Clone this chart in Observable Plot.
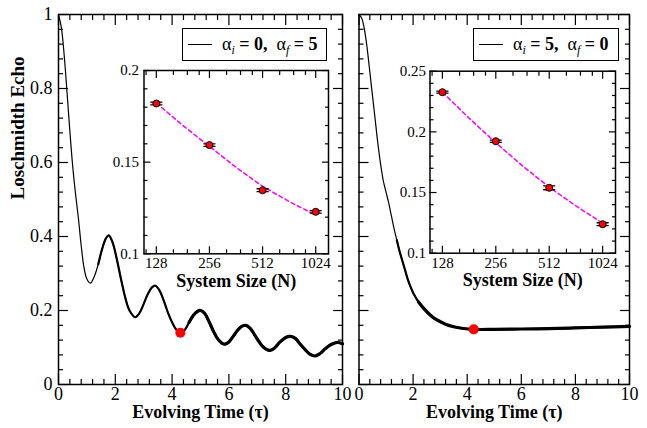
<!DOCTYPE html>
<html><head><meta charset="utf-8">
<script src="https://cdn.jsdelivr.net/npm/d3@7"></script>
<script src="https://cdn.jsdelivr.net/npm/@observablehq/plot@0.6"></script>
<style>
body{margin:0;background:#fff;}
#wrap{position:relative;width:647px;height:428px;overflow:hidden;font-family:"Liberation Serif","Times New Roman",serif;}
.pos{position:absolute;}
.legend{position:absolute;border:1.5px solid #000;background:#fff;box-sizing:border-box;font-weight:bold;font-size:18px;color:#000;}
.legend .ls{position:absolute;height:0;border-top:1px solid #000;}
.legend .lt{position:absolute;white-space:pre;line-height:22px;}
.legend .g{font-weight:normal;}
.legend sub{font-size:12px;font-style:italic;font-weight:normal;vertical-align:-4px;line-height:0;}
</style></head><body><div id="wrap"></div>
<script>
// ---- Main panels: Loschmidt echo vs evolving time ----
const timeLeft = [0,0.1,0.2,0.3,0.4,0.5,0.6,0.7,0.8,0.9,1.0,1.12,1.25,1.4,1.55,1.67,1.77,1.9,2.05,2.2,2.35,2.5,2.7,2.85,3.0,3.15,3.3,3.41,3.55,3.7,3.85,4.0,4.15,4.29,4.45,4.6,4.75,4.9,5.0,5.15,5.3,5.45,5.6,5.75,5.87,6.0,6.15,6.3,6.45,6.6,6.75,6.9,7.05,7.2,7.43,7.6,7.8,8.0,8.17,8.35,8.5,8.7,8.85,9.03,9.2,9.4,9.6,9.82,10];
const echoLeft = [1,0.965,0.89,0.79,0.685,0.59,0.515,0.45,0.375,0.315,0.285,0.274,0.29,0.325,0.37,0.395,0.403,0.385,0.34,0.285,0.235,0.2,0.182,0.193,0.218,0.245,0.263,0.267,0.255,0.228,0.195,0.168,0.148,0.14,0.148,0.168,0.187,0.198,0.2,0.192,0.17,0.145,0.124,0.112,0.109,0.115,0.13,0.146,0.157,0.16,0.152,0.135,0.117,0.102,0.092,0.098,0.115,0.127,0.13,0.124,0.11,0.093,0.082,0.077,0.083,0.097,0.108,0.114,0.11];
const timeRight = [0,0.1,0.2,0.3,0.4,0.5,0.6,0.7,0.8,0.9,1.0,1.1,1.2,1.3,1.4,1.5,1.6,1.7,1.8,1.9,2.0,2.2,2.4,2.6,2.8,3.0,3.2,3.5,3.8,4.24,5,6,7,8,9,10];
const echoRight = [1,0.99,0.96,0.91,0.845,0.78,0.715,0.65,0.595,0.55,0.52,0.49,0.455,0.42,0.39,0.36,0.335,0.31,0.285,0.265,0.248,0.223,0.205,0.19,0.178,0.17,0.163,0.156,0.152,0.149,0.149,0.15,0.151,0.153,0.155,0.157];
const markedLeft = {t: 4.29, e: 0.14};
const markedRight = {t: 4.24, e: 0.149};
const legendLeft = {ai: 0, af: 5};
const legendRight = {ai: 5, af: 0};

const xMajor = [0,2,4,6,8,10];
const xMinor = d3.range(0.4, 10, 0.4).filter(v => Math.abs(v/2 - Math.round(v/2)) > 1e-6);
const yMajor = [0,0.2,0.4,0.6,0.8,1];
const yMinor = d3.range(0.04, 1, 0.04).filter(v => Math.abs(v/0.2 - Math.round(v/0.2)) > 1e-6);

// ---- Insets: echo at marked time vs system size ----
const sizes = [128,256,512,1024];
const sizeLabels = ["128","256","512","1024"];
const sizeMinor = [112,160,192,224,320,384,448,640,768,896];
const insetLeftValues = [0.182,0.1593,0.1347,0.1229];
const insetLeftErrors = [0.0007,0.0007,0.0008,0.0007];
const insetLeftFitN = [128,181,256,362,512,724,1024];
const insetLeftFit = [0.1823,0.170,0.1586,0.1472,0.1368,0.1285,0.1211];
const insetRightValues = [0.2327,0.1923,0.1539,0.1239];
const insetRightErrors = [0.0008,0.0009,0.0016,0.0012];
const insetRightFitN = [128,181,256,362,512,724,1024];
const insetRightFit = [0.2327,0.2113,0.191,0.172,0.1544,0.139,0.1247];
const insetLeftYMajor = [0.1,0.15,0.2];
const insetRightYMajor = [0.1,0.15,0.2,0.25];
const insetXDomain = [109, 1210];

const FONT = "Liberation Serif, Times New Roman, serif";
const wrap = document.getElementById("wrap");

function place(el, left, top) {
  el.classList.add("pos");
  el.style.left = left + "px";
  el.style.top = top + "px";
  wrap.appendChild(el);
}

// segments as two-point polylines grouped by id
function segLine(segs, opts) {
  const pts = segs.flatMap((s, i) => [{x: s[0], y: s[1], id: i}, {x: s[2], y: s[3], id: i}]);
  return Plot.line(pts, {x: "x", y: "y", z: "id", ...opts});
}

// inward ticks on all four sides, drawn with the library's axis ticks shifted inside the frame
function axisTicks(xMaj, xMin, yMaj, yMin, majLen, minLen) {
  const o = {stroke: "#000", strokeWidth: 1.2, fill: "none", tickFormat: () => "", label: null, tickPadding: 0};
  const xs = (arr, len) => [
    Plot.axisX(arr, {...o, anchor: "bottom", tickSize: len, dy: -len}),
    Plot.axisX(arr, {...o, anchor: "top", tickSize: len, dy: len})
  ];
  const ys = (arr, len) => [
    Plot.axisY(arr, {...o, anchor: "left", tickSize: len, dx: len}),
    Plot.axisY(arr, {...o, anchor: "right", tickSize: len, dx: -len})
  ];
  return [...xs(xMaj, majLen), ...xs(xMin, minLen), ...ys(yMaj, majLen), ...ys(yMin, minLen)];
}

function mainPanel({t, e, mark, width, mL, mR, showY, thick1, thick2}) {
  const H = 428, mT = 14, mB = 44;
  const data = t.map((x, i) => ({t: x, e: e[i]}));
  const lineOpts = {x: "t", y: "e", curve: "catmull-rom", stroke: "#000"};
  const marks = [
    Plot.line(data, {...lineOpts, strokeWidth: 1.2}),
    Plot.line(data.filter(d => d.t >= thick1), {...lineOpts, strokeWidth: 2.2}),
    Plot.line(data.filter(d => d.t >= thick2), {...lineOpts, strokeWidth: 3.2}),
    Plot.dot([mark], {x: "t", y: "e", r: 5, fill: "#ff0000", stroke: "none"}),
    ...axisTicks(xMajor, xMinor, yMajor, yMinor, 10, 5),
    Plot.frame({stroke: "#000", strokeWidth: 1.5}),
    Plot.axisX(xMajor, {tickSize: 0, tickPadding: 3, fontSize: 18, label: null, tickFormat: d => String(d)}),
    Plot.text(["Evolving Time (τ)"], {frameAnchor: "bottom", dy: 33, fontWeight: "bold", fontSize: 18, fill: "#000"})
  ];
  if (showY) {
    marks.push(Plot.axisY(yMajor, {tickSize: 0, tickPadding: 6, fontSize: 18, label: null, tickFormat: d => String(d)}));
    marks.push(Plot.text(["Loschmidth Echo"], {frameAnchor: "left", rotate: -90, dx: -41, fontWeight: "bold", fontSize: 19, fill: "#000"}));
  }
  return Plot.plot({
    width, height: H, marginLeft: mL, marginRight: mR, marginTop: mT, marginBottom: mB,
    x: {domain: [0, 10], axis: null},
    y: {domain: [0, 1], axis: null},
    style: {fontFamily: FONT, background: "transparent", color: "#000", overflow: "visible"},
    marks
  });
}

function insetPanel({vals, errs, fitN, fit, yDom, yMaj, width, height, mL, mR, mT, mB, yPad}) {
  const pts = sizes.map((n, i) => ({n, v: vals[i], err: errs[i]}));
  const fitData = fitN.map((n, i) => ({n, v: fit[i]}));
  const yMin = d3.range(yDom[0] + 0.01, yDom[1] - 0.001, 0.01).filter(v => Math.abs(v/0.05 - Math.round(v/0.05)) > 1e-6);
  const cap = 1.075;
  const errSegs = pts.flatMap(d => [
    [d.n, d.v - d.err, d.n, d.v + d.err],
    [d.n / cap, d.v + d.err, d.n * cap, d.v + d.err],
    [d.n / cap, d.v - d.err, d.n * cap, d.v - d.err]
  ]);
  return Plot.plot({
    width, height, marginLeft: mL, marginRight: mR, marginTop: mT, marginBottom: mB,
    x: {type: "log", base: 2, domain: insetXDomain, axis: null},
    y: {domain: yDom, axis: null},
    style: {fontFamily: FONT, background: "transparent", color: "#000", overflow: "visible"},
    marks: [
      Plot.line(fitData, {x: "n", y: "v", stroke: "#ff00ff", strokeWidth: 1.5, strokeDasharray: "4,3"}),
      segLine(errSegs, {stroke: "#000", strokeWidth: 1.3}),
      Plot.dot(pts, {x: "n", y: "v", r: 3.5, fill: "#ff0000", stroke: "#000", strokeWidth: 1}),
      ...axisTicks(sizes, sizeMinor, yMaj, yMin, 7, 4),
      Plot.frame({stroke: "#000", strokeWidth: 1.5}),
      Plot.axisX(sizes, {tickSize: 0, tickPadding: 4, fontSize: 15, label: null, tickFormat: d => sizeLabels[sizes.indexOf(d)]}),
      Plot.axisY(yMaj, {tickSize: 0, tickPadding: yPad, fontSize: 15, label: null, tickFormat: d => String(d)}),
      Plot.text(["System Size (N)"], {frameAnchor: "bottom", dy: 33, fontWeight: "bold", fontSize: 18, fill: "#000"})
    ]
  });
}

function legendBox(entry, left, top, width, height) {
  const box = document.createElement("div");
  box.className = "legend";
  box.style.left = left + "px"; box.style.top = top + "px";
  box.style.width = width + "px"; box.style.height = height + "px";
  const ls = document.createElement("span");
  ls.className = "ls";
  ls.style.left = "5px"; ls.style.top = "15px"; ls.style.width = "24px";
  const lt = document.createElement("span");
  lt.className = "lt";
  lt.style.left = "39px"; lt.style.top = "4px";
  lt.innerHTML = '<span class="g">α</span><sub>i</sub> = ' + entry.ai + ',  <span class="g">α</span><sub>f</sub> = ' + entry.af;
  box.appendChild(ls); box.appendChild(lt);
  wrap.appendChild(box);
}

place(mainPanel({t: timeLeft, e: echoLeft, mark: markedLeft, width: 350, mL: 58, mR: 8, showY: true, thick1: 1.4, thick2: 4.6}), 0, 0);
place(mainPanel({t: timeRight, e: echoRight, mark: markedRight, width: 297, mL: 8.5, mR: 18, showY: false, thick1: 1.4, thick2: 2.1}), 350, 0);
place(insetPanel({vals: insetLeftValues, errs: insetLeftErrors, fitN: insetLeftFitN, fit: insetLeftFit, yDom: [0.1, 0.2], yMaj: insetLeftYMajor, width: 240, height: 240, mL: 48.5, mR: 7, mT: 10, mB: 46.7, yPad: 5}), 95, 60);
place(insetPanel({vals: insetRightValues, errs: insetRightErrors, fitN: insetRightFitN, fit: insetRightFit, yDom: [0.1, 0.25], yMaj: insetRightYMajor, width: 240, height: 240, mL: 49.5, mR: 5, mT: 10.7, mB: 47.3, yPad: 4}), 380, 60);
legendBox(legendLeft, 182, 28, 145, 33);
legendBox(legendRight, 473, 28, 146, 33);
</script></body></html>
